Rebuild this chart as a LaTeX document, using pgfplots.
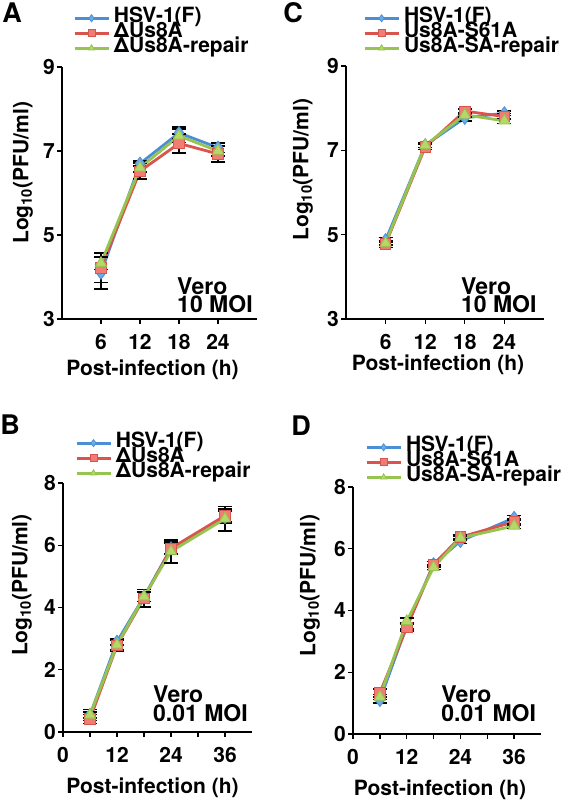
\documentclass[border=0pt]{standalone}
\usepackage{fontspec}
\setmainfont{TeX Gyre Heros}
\usepackage{pgfplots}
\pgfplotsset{compat=1.18}
\definecolor{bl}{RGB}{74,142,214}
\definecolor{blf}{RGB}{110,172,232}
\definecolor{rd}{RGB}{218,84,78}
\definecolor{rdf}{RGB}{240,125,115}
\definecolor{gn}{RGB}{150,196,80}
\definecolor{gnf}{RGB}{182,216,104}
\pgfplotsset{
 pan/.style={scale only axis, axis x line=bottom, axis y line=left,
  axis line style={-, line width=1.3pt, black},
  tick align=outside, major tick length=5pt, tick style={line width=1.3pt, black},
  /pgf/number format/assume math mode=true,
  ticklabel style={font=\fontsize{21}{21}\selectfont\bfseries},
  yticklabel style={inner sep=2pt},
  xticklabel style={inner sep=2pt, yshift=-8pt},
  label style={font=\fontsize{21}{21}\selectfont\bfseries},
  xlabel={Post-infection (h)}, ylabel={Log\textsubscript{10}(PFU/ml)},
  legend style={draw=none, fill=none, inner sep=0pt, row sep=0pt,
    font=\fontsize{21}{15}\selectfont\bfseries, anchor=north west,
    nodes={inner ysep=0pt, inner xsep=4pt, text height=11.5pt, text depth=3.5pt}},
  legend cell align=left,
  legend image code/.code={\draw[mark repeat=2, mark phase=2, #1, mark size=3.5pt] plot coordinates {(0pt,0pt) (17pt,0pt) (34pt,0pt)};},
  clip=false,
 },
 s1/.style={bl, line width=2.8pt, mark=diamond*, mark size=6.5pt, mark options={fill=blf, draw=bl, line width=0.8pt}},
 s2/.style={rd, line width=2.8pt, mark=square*, mark size=5.2pt, mark options={fill=rdf, draw=rd, line width=0.8pt}},
 s3/.style={gn, line width=2.8pt, mark=triangle*, mark size=6.5pt, mark options={fill=gnf, draw=gn, line width=0.8pt}},
 eb/.style={error bars/.cd, y dir=both, y explicit, error bar style={black, line width=1.5pt}, error mark options={black, rotate=90, mark size=7pt, line width=1.5pt}},
}
\begin{document}
\begin{tikzpicture}
\path[use as bounding box] (0pt,0pt) rectangle (566pt,806pt);
\node[font=\fontsize{27}{27}\selectfont\bfseries] at (12pt,793pt) {A};
\node[font=\fontsize{27}{27}\selectfont\bfseries] at (10pt,381pt) {B};
\node[font=\fontsize{27}{27}\selectfont\bfseries] at (293pt,793pt) {C};
\node[font=\fontsize{27}{27}\selectfont\bfseries] at (301pt,380pt) {D};

% Panel A
\begin{axis}[pan, at={(62pt,487pt)}, anchor=south west, width=195pt, height=252pt,
  xmin=0, xmax=30, ymin=3, ymax=9, xtick={6,12,18,24}, ytick={3,5,7,9},
  xlabel style={at={(axis description cs:0.5,0)}, anchor=center, yshift=-51pt, xshift=-7pt},
  ylabel style={at={(axis description cs:0,0.58)}, anchor=center, yshift=39pt},
  legend style={at={(axis description cs:0.056,1.224)}}]
\addplot[s1, eb] table[y error index=2] {
6 4.10 0.38
12 6.70 0.06
18 7.43 0.14
24 7.08 0.11
};
\addlegendentry{HSV-1(F)}
\addplot[s2, eb] table[y error index=2] {
6 4.22 0.35
12 6.52 0.19
18 7.18 0.23
24 6.93 0.19
};
\addlegendentry{ΔUs8A}
\addplot[s3, eb] table[y error index=2] {
6 4.33 0.15
12 6.60 0.10
18 7.36 0.16
24 7.00 0.12
};
\addlegendentry{ΔUs8A-repair}
\node[anchor=south west, align=left, inner sep=0pt, font=\fontsize{23}{17}\selectfont\bfseries] at (axis cs:17.7,3.14) {Vero\\10 MOI};
\end{axis}

% Panel B
\begin{axis}[pan, at={(63pt,74pt)}, anchor=south west, width=189pt, height=249pt,
  xmin=0, xmax=42, ymin=0, ymax=8, xtick={0,6,...,36}, xticklabels={0,,12,,24,,36}, ytick={0,2,...,8},
  xlabel style={at={(axis description cs:0.5,0)}, anchor=center, yshift=-56pt, xshift=-5pt},
  ylabel style={at={(axis description cs:0,0.59)}, anchor=center, yshift=41pt},
  legend style={at={(axis description cs:0.063,1.191)}}]
\addplot[s1, eb] table[y error index=2] {
6 0.55 0.18
12 2.90 0.10
18 4.35 0.15
24 5.90 0.18
36 6.90 0.20
};
\addlegendentry{HSV-1(F)}
\addplot[s2, eb] table[y error index=2] {
6 0.42 0.15
12 2.78 0.17
18 4.30 0.28
24 5.90 0.20
36 6.95 0.21
};
\addlegendentry{ΔUs8A}
\addplot[s3, eb] table[y error index=2] {
6 0.55 0.10
12 2.80 0.15
18 4.35 0.15
24 5.80 0.37
36 6.85 0.39
};
\addlegendentry{ΔUs8A-repair}
\node[anchor=south west, align=left, inner sep=0pt, font=\fontsize{23}{19}\selectfont\bfseries] at (axis cs:20,0.32) {Vero\\0.01 MOI};
\end{axis}

% Panel C
\begin{axis}[pan, at={(346pt,487pt)}, anchor=south west, width=198pt, height=253pt,
  xmin=0, xmax=30, ymin=3, ymax=9, xtick={6,12,18,24}, ytick={3,5,7,9},
  xlabel style={at={(axis description cs:0.5,0)}, anchor=center, yshift=-46pt, xshift=-7pt},
  ylabel style={at={(axis description cs:0,0.59)}, anchor=center, yshift=43pt},
  legend style={at={(axis description cs:0.086,1.219)}}]
\addplot[s1, eb] table[y error index=2] {
6 4.87 0.06
12 7.12 0.05
18 7.77 0.08
24 7.88 0.05
};
\addlegendentry{HSV-1(F)}
\addplot[s2, eb] table[y error index=2] {
6 4.78 0.08
12 7.08 0.06
18 7.93 0.05
24 7.80 0.07
};
\addlegendentry{Us8A-S61A}
\addplot[s3, eb] table[y error index=2] {
6 4.80 0.05
12 7.12 0.05
18 7.84 0.05
24 7.70 0.06
};
\addlegendentry{Us8A-SA-repair}
\node[anchor=south west, align=left, inner sep=0pt, font=\fontsize{23}{17}\selectfont\bfseries] at (axis cs:17.4,3.14) {Vero\\10 MOI};
\end{axis}

% Panel D
\begin{axis}[pan, at={(353pt,72pt)}, anchor=south west, width=188pt, height=247pt,
  xmin=0, xmax=42, ymin=0, ymax=8, xtick={0,6,...,36}, xticklabels={0,,12,,24,,36}, ytick={0,2,...,8},
  xlabel style={at={(axis description cs:0.5,0)}, anchor=center, yshift=-56pt, xshift=-7pt},
  ylabel style={at={(axis description cs:0,0.60)}, anchor=center, yshift=43pt},
  legend style={at={(axis description cs:0.064,1.192)}}]
\addplot[s1, eb] table[y error index=2] {
6 1.10 0.10
12 3.50 0.10
18 5.50 0.08
24 6.25 0.08
36 7.00 0.08
};
\addlegendentry{HSV-1(F)}
\addplot[s2, eb] table[y error index=2] {
6 1.33 0.12
12 3.45 0.12
18 5.49 0.10
24 6.38 0.06
36 6.87 0.10
};
\addlegendentry{Us8A-S61A}
\addplot[s3, eb] table[y error index=2] {
6 1.20 0.08
12 3.65 0.10
18 5.40 0.08
24 6.35 0.06
36 6.74 0.08
};
\addlegendentry{Us8A-SA-repair}
\node[anchor=south west, align=left, inner sep=0pt, font=\fontsize{23}{19}\selectfont\bfseries] at (axis cs:19.7,0.39) {Vero\\0.01 MOI};
\end{axis}
\end{tikzpicture}
\end{document}
